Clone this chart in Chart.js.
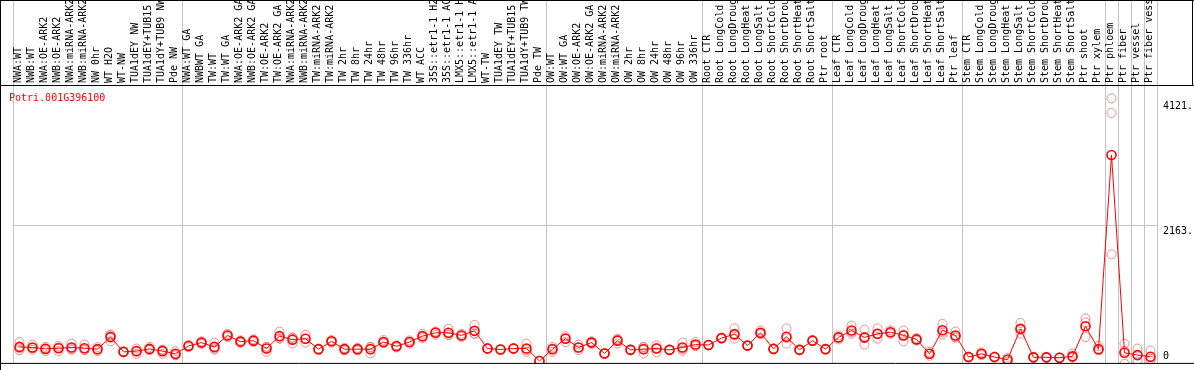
<!DOCTYPE html>
<html>
<head>
<meta charset="utf-8">
<script src="https://cdn.jsdelivr.net/npm/chart.js@4.4.0/dist/chart.umd.min.js"></script>
<style>
  html, body { margin: 0; padding: 0; background: #fff; }
  canvas { display: block; }
</style>
</head>
<body>
<canvas id="expr-chart" width="1194" height="370"></canvas>
<script>
const geneName = "Potri.001G396100";

const samples = [
  "NWA:WT", "NWB:WT", "NWA:OE-ARK2", "NWB:OE-ARK2", "NWA:miRNA-ARK2", "NWB:miRNA-ARK2",
  "NW 0hr", "WT H2O", "WT-NW", "TUA1dEY NW", "TUA1dEY+TUB15", "TUA1dY+TUB9 NW", "Pde NW",
  "NWA:WT GA", "NWBWT GA", "TW:WT", "TW:WT GA", "NWA:OE-ARK2 GA", "NWB:OE-ARK2 GA",
  "TW:OE-ARK2", "TW:OE-ARK2 GA", "NWA:miRNA-ARK2", "NWB:miRNA-ARK2", "TW:miRNA-ARK2",
  "TW:miRNA-ARK2", "TW 2hr", "TW 8hr", "TW 24hr", "TW 48hr", "TW 96hr", "TW 336hr",
  "WT ACC", "35S::etr1-1 H2O", "35S::etr1-1 ACC", "LMX5::etr1-1 H2O", "LMX5::etr1-1 ACC",
  "WT-TW", "TUA1dEY TW", "TUA1dEY+TUB15 TW", "TUA1dY+TUB9 TW", "Pde TW",
  "OW:WT", "OW:WT GA", "OW:OE-ARK2", "OW:OE-ARK2 GA", "OW:miRNA-ARK2", "OW:miRNA-ARK2",
  "OW 2hr", "OW 8hr", "OW 24hr", "OW 48hr", "OW 96hr", "OW 336hr",
  "Root CTR", "Root LongCold", "Root LongDrought", "Root LongHeat", "Root LongSalt",
  "Root ShortCold", "Root ShortDrought", "Root ShortHeat", "Root ShortSalt", "Ptr root",
  "Leaf CTR", "Leaf LongCold", "Leaf LongDrought", "Leaf LongHeat", "Leaf LongSalt",
  "Leaf ShortCold", "Leaf ShortDrought", "Leaf ShortHeat", "Leaf ShortSalt", "Ptr leaf",
  "Stem CTR", "Stem LongCold", "Stem LongDrought", "Stem LongHeat", "Stem LongSalt",
  "Stem ShortCold", "Stem ShortDrought", "Stem ShortHeat", "Stem ShortSalt",
  "Ptr shoot", "Ptr xylem", "Ptr phloem", "Ptr fiber", "Ptr vessel", "Ptr fiber vessel"
];

// first sample of each block gets a separator line on its left
const groupStarts = [0, 13, 41, 53, 63, 73, 84, 85, 86, 87];

const meanExpr = [
  266, 257, 235, 246, 257, 246, 231, 420, 189, 200, 235, 200, 158,
  281, 334, 266, 446, 349, 364, 241, 435, 380, 395, 231, 354, 231, 231, 231, 343, 277, 343,
  435, 487, 487, 446, 518, 241, 226, 241, 241, 46,
  231, 395, 257, 334, 164, 364, 220, 231, 241, 220, 257, 303,
  297, 404, 466, 287, 487, 235, 426, 220, 364, 231,
  415, 523, 415, 472, 497, 446, 384, 158, 527, 446,
  108, 158, 108, 66, 549, 103, 103, 97, 118,
  589, 231, 3274, 174, 138, 112
];

const rep1 = [
  343, 303, 200, 281, 318, 303, 200, 354, 180, 241, 266, 220, 200,
  292, 354, 334, 472, 369, 384, 266, 507, 415, 456, 241, 374, 251, 251, 266, 374, 292, 369,
  472, 507, 549, 472, 610, 233, 218, 233, 318, 40,
  266, 435, 303, 354, 156, 395, 212, 266, 292, 214, 334, 343,
  291, 396, 558, 281, 523, 228, 558, 212, 356, 224,
  446, 600, 538, 558, 527, 523, 404, 189, 626, 507,
  100, 180, 100, 97, 641, 95, 95, 90, 164,
  712, 281, 4161, 318, 241, 211
];

const rep2 = [
  241, 220, 266, 200, 220, 220, 266, 446, 195, 158, 220, 158, 138,
  261, 312, 241, 446, 328, 343, 189, 395, 318, 334, 220, 334, 210, 210, 164, 323, 257, 318,
  404, 456, 460, 420, 472, 241, 226, 243, 189, 46,
  189, 343, 215, 312, 164, 318, 220, 164, 180, 220, 231, 281,
  297, 404, 395, 287, 470, 235, 318, 220, 364, 231,
  415, 472, 303, 395, 472, 354, 364, 128, 461, 420,
  108, 138, 108, 35, 472, 103, 103, 97, 105,
  650, 231, 3931, 204, 35, 46
];

const rep3 = [
  214, 248, 239, 257, 233, 215, 227, 460, 192, 201, 219, 222, 136,
  290, 336, 223, 420, 350, 365, 268, 403, 407, 395, 232, 354, 232, 232, 263, 332, 282, 342,
  429, 498, 452, 446, 472, 249, 234, 247, 216, 52,
  238, 407, 253, 336, 172, 379, 228, 263, 251, 226, 206, 285,
  303, 412, 445, 293, 468, 242, 402, 228, 372, 238,
  384, 497, 404, 463, 492, 461, 384, 157, 494, 411,
  116, 156, 116, 66, 534, 111, 111, 104, 100,
  420, 211, 1717, 0, 138, 79
];

const yTicks = [0, 2163, 4121];
const yTickLabels = ["0", "2163.", "4121."];

const monoFont = "'DejaVu Sans Mono', 'Liberation Mono', monospace";

const framePlugin = {
  id: "frame",
  afterDraw(chart) {
    const ctx = chart.ctx;
    const area = chart.chartArea;
    const yScale = chart.scales.y;
    ctx.save();
    ctx.strokeStyle = "#000";
    ctx.lineWidth = 1;
    ctx.beginPath();
    ctx.moveTo(0, 0.5); ctx.lineTo(chart.width, 0.5);
    ctx.moveTo(0.5, 0); ctx.lineTo(0.5, chart.height);
    ctx.moveTo(0, area.top + 0.5); ctx.lineTo(chart.width, area.top + 0.5);
    ctx.moveTo(0, area.bottom - 0.5); ctx.lineTo(chart.width, area.bottom - 0.5);
    ctx.moveTo(chart.width - 1.5, 0); ctx.lineTo(chart.width - 1.5, area.top);
    ctx.stroke();

    ctx.font = "10px " + monoFont;
    ctx.fillStyle = "#ff0000";
    ctx.textBaseline = "alphabetic";
    ctx.textAlign = "left";
    ctx.fillText(geneName, 9, 101);

    ctx.fillStyle = "#000";
    ctx.textBaseline = "top";
    yTicks.forEach((v, i) => {
      let y = yScale.getPixelForValue(v) + 1;
      if (y > area.bottom - 12) y = area.bottom - 12;
      ctx.fillText(yTickLabels[i], area.right + 6, y);
    });
    ctx.restore();
  }
};

const ctx = document.getElementById("expr-chart").getContext("2d");

const repStyle = {
  showLine: false,
  pointRadius: 4.5,
  pointBorderWidth: 1,
  pointBorderColor: "rgba(228, 110, 110, 0.75)",
  pointBackgroundColor: "rgba(0,0,0,0)"
};

new Chart(ctx, {
  type: "line",
  data: {
    labels: samples,
    datasets: [
      {
        label: "mean",
        data: meanExpr,
        borderColor: "#ff0000",
        borderWidth: 1,
        pointRadius: 4.5,
        pointBorderWidth: 1.6,
        pointBorderColor: "#ff0000",
        pointBackgroundColor: "rgba(0,0,0,0)",
        tension: 0
      },
      Object.assign({ label: "rep1", data: rep1 }, repStyle),
      Object.assign({ label: "rep2", data: rep2 }, repStyle),
      Object.assign({ label: "rep3", data: rep3 }, repStyle)
    ]
  },
  options: {
    responsive: false,
    animation: false,
    devicePixelRatio: 1,
    layout: { padding: { left: 13, right: 0, top: 0, bottom: 1 } },
    plugins: {
      legend: { display: false },
      title: { display: false },
      tooltip: { enabled: false }
    },
    scales: {
      x: {
        type: "category",
        position: "top",
        offset: true,
        border: { display: false },
        grid: {
          offset: true,
          drawOnChartArea: true,
          drawTicks: true,
          tickLength: 85,
          lineWidth: 1,
          color: (c) => (c.index === undefined || groupStarts.includes(c.index)) ? "#c4c4c4" : "rgba(0,0,0,0)"
        },
        ticks: {
          autoSkip: false,
          minRotation: 90,
          maxRotation: 90,
          padding: -83,
          labelOffset: 11,
          color: "#000",
          font: { family: monoFont, size: 10 }
        },
        afterFit: (scale) => { scale.height = 85; }
      },
      y: {
        position: "right",
        min: 0,
        max: 4370,
        border: { display: false },
        afterBuildTicks: (scale) => { scale.ticks = yTicks.map(v => ({ value: v })); },
        grid: {
          drawTicks: false,
          color: (c) => (c.tick && c.tick.value === 2163) ? "#c4c4c4" : "rgba(0,0,0,0)"
        },
        ticks: { display: false },
        afterFit: (scale) => { scale.width = 37; }
      }
    }
  },
  plugins: [framePlugin]
});
</script>
</body>
</html>
